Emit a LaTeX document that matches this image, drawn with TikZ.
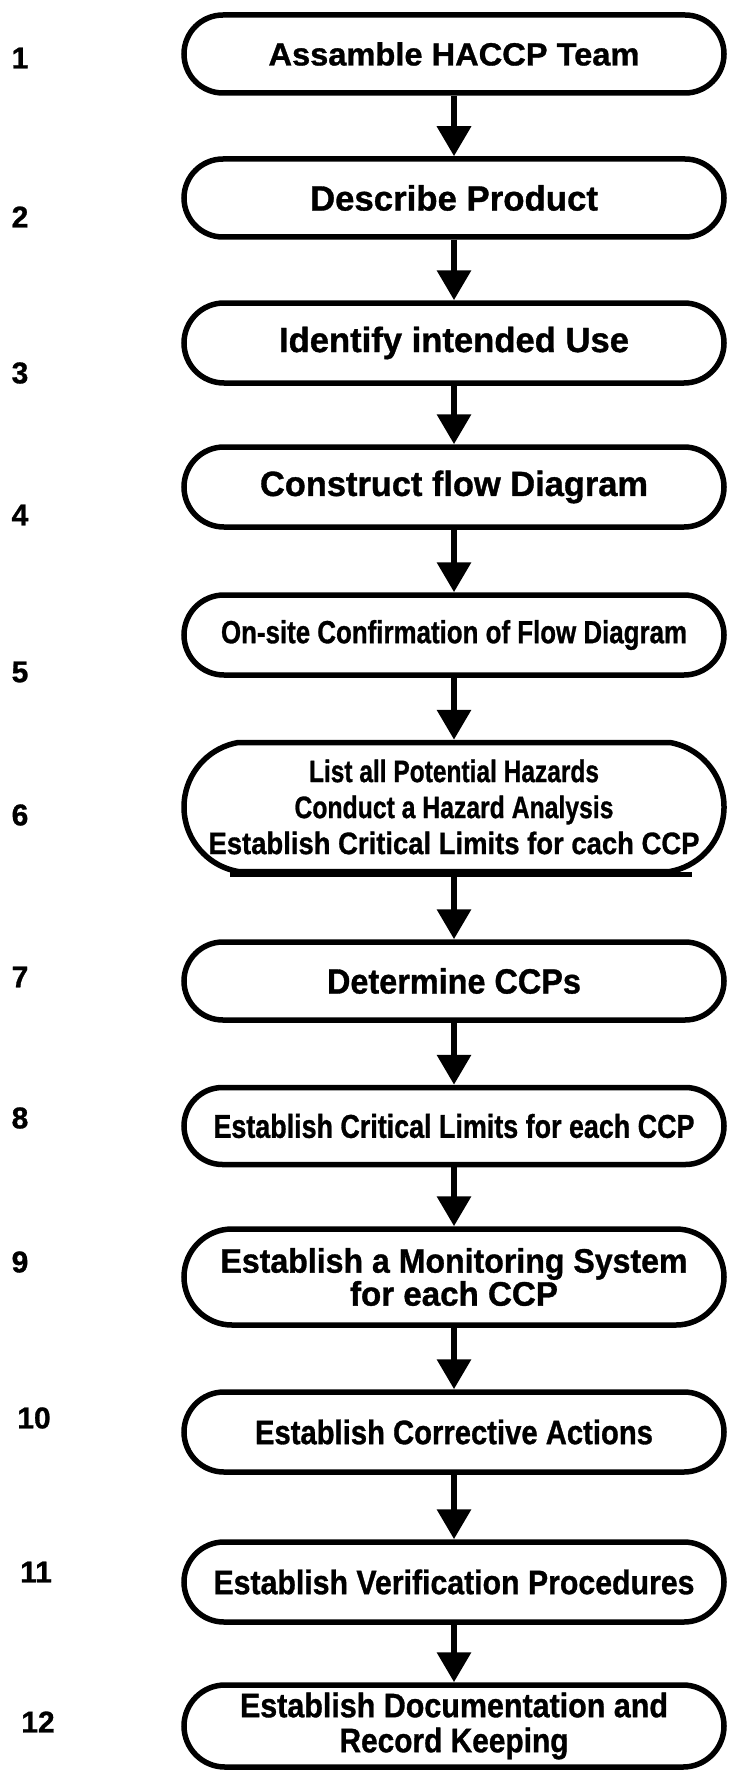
\documentclass[tikz,border=0pt]{standalone}
\usepackage{fontspec}
\setmainfont{Liberation Sans}[BoldFeatures={FakeBold=1}]
\usetikzlibrary{shapes.misc,arrows.meta}
\newcommand{\fitw}[2]{\resizebox{#1pt}{\height}{#2}}
\begin{document}
\begin{tikzpicture}[x=1pt,y=-1pt,
  stepbox/.style={rounded rectangle, rounded rectangle arc length=180, draw, line width=5.5pt,
    minimum width=540pt, inner sep=0pt, align=center},
  flow/.style={line width=6.5pt, -{Triangle[length=30pt,width=33pt]}},
  numlabel/.style={font=\bfseries\fontsize{30}{30}\selectfont}]
\useasboundingbox[fill=white] (0,0) rectangle (729,1771);
\node[stepbox, minimum height=78pt, font=\bfseries\fontsize{32}{34}\selectfont] (b1) at (454,54) {\fitw{371}{Assamble HACCP Team}};
\node[stepbox, minimum height=78pt, font=\bfseries\fontsize{35}{34}\selectfont] (b2) at (454,198) {\fitw{288}{Describe Product}};
\node[stepbox, minimum height=80pt, font=\bfseries\fontsize{35}{34}\selectfont] (b3) at (454,343) {\fitw{350}{Identify intended Use}};
\node[stepbox, minimum height=80pt, font=\bfseries\fontsize{35}{34}\selectfont] (b4) at (454,487) {\fitw{388}{Construct flow Diagram}};
\node[stepbox, minimum height=80pt, font=\bfseries\fontsize{32}{34}\selectfont] (b5) at (454,635) {\fitw{466}{On-site Confirmation of Flow Diagram}};
\node[stepbox, rounded rectangle arc length=160, minimum height=129pt, font=\bfseries\fontsize{31}{36}\selectfont] (b6) at (454,807) {\fitw{290}{List all Potential Hazards}\\\fitw{319}{Conduct a Hazard Analysis}\\\fitw{491}{Establish Critical Limits for cach CCP}};
\node[stepbox, minimum height=78pt, font=\bfseries\fontsize{35}{34}\selectfont] (b7) at (454,981) {\fitw{254}{Determine CCPs}};
\node[stepbox, minimum height=77pt, font=\bfseries\fontsize{33}{34}\selectfont] (b8) at (454,1126) {\fitw{481}{Establish Critical Limits for each CCP}};
\node[stepbox, minimum height=96pt, font=\bfseries\fontsize{34}{33}\selectfont] (b9) at (454,1277) {\fitw{467}{Establish a Monitoring System}\\\fitw{208}{for each CCP}};
\node[stepbox, minimum height=80pt, font=\bfseries\fontsize{34}{34}\selectfont] (b10) at (454,1432) {\fitw{398}{Establish Corrective Actions}};
\node[stepbox, minimum height=80pt, font=\bfseries\fontsize{34}{34}\selectfont] (b11) at (454,1582) {\fitw{481}{Establish Verification Procedures}};
\node[stepbox, minimum height=82pt, font=\bfseries\fontsize{34}{35}\selectfont] (b12) at (454,1726) {\fitw{428}{Establish Documentation and}\\\fitw{229}{Record Keeping}};
\draw[line width=5pt] ([xshift=-224pt]b6.south) -- ([xshift=238pt]b6.south);
\foreach \a/\b in {b1/b2,b2/b3,b3/b4,b4/b5,b5/b6,b6/b7,b7/b8,b8/b9,b9/b10,b10/b11,b11/b12}
  \draw[flow] (\a.south) -- (\b.north);
\node[numlabel] (n1) at (20,58) {1};
\node[numlabel] (n2) at (20,217) {2};
\node[numlabel] (n3) at (20,373) {3};
\node[numlabel] (n4) at (20,515) {4};
\node[numlabel] (n5) at (20,672) {5};
\node[numlabel] (n6) at (20,815) {6};
\node[numlabel] (n7) at (20,977) {7};
\node[numlabel] (n8) at (20,1118) {8};
\node[numlabel] (n9) at (20,1262) {9};
\node[numlabel] (n10) at (34,1418) {10};
\node[numlabel] (n11) at (36,1572) {11};
\node[numlabel] (n12) at (38,1722) {12};
\end{tikzpicture}
\end{document}
